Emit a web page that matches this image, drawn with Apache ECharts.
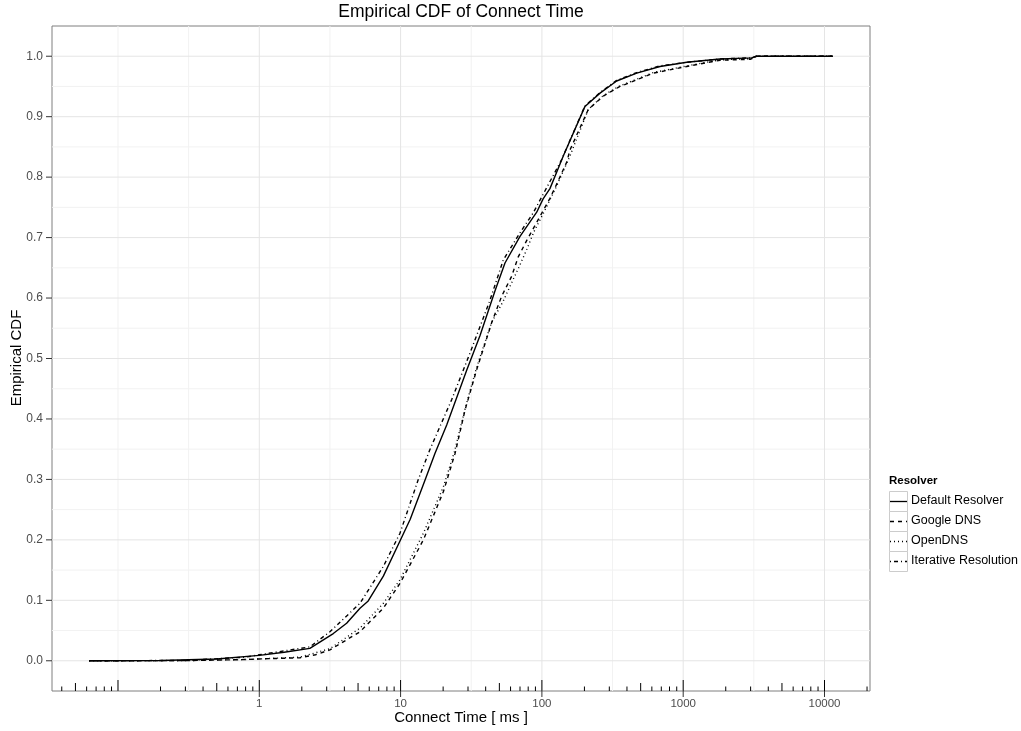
<!DOCTYPE html>
<html><head><meta charset="utf-8">
<script src="https://cdn.jsdelivr.net/npm/echarts@6/dist/echarts.min.js"></script>
<style>html,body{margin:0;padding:0;background:#fff}#c{width:1021px;height:731px}</style>
</head><body><div id="c"></div>
<script>
// ---- data ----
const seriesNames = ['Default Resolver', 'Google DNS', 'OpenDNS', 'Iterative Resolution'];

const defaultX = [0.0625, 0.2, 0.5, 1, 1.5, 2.28, 3.34, 4.15, 5.16, 5.9, 7.55, 9.9, 11.7, 14.9, 17.5, 21.2, 29.4, 36.5, 46.6, 54.8, 70, 91.9, 102, 114, 141.7, 201.8, 257.8, 338, 469, 685, 1059, 1820, 3055, 3300, 11450];
const defaultY = [0, 0.0005, 0.003, 0.009, 0.014, 0.0205, 0.045, 0.062, 0.087, 0.099, 0.140, 0.198, 0.234, 0.299, 0.343, 0.390, 0.481, 0.538, 0.612, 0.658, 0.702, 0.742, 0.764, 0.781, 0.835, 0.917, 0.939, 0.959, 0.972, 0.983, 0.990, 0.9955, 0.9973, 1.0, 1.0];

const googleX = [0.0625, 0.3, 0.8, 1.0, 1.94, 2.5, 3.16, 5.16, 7.55, 9.9, 14.5, 20.1, 24.3, 28.6, 34.5, 44.1, 51.9, 61.1, 68, 78, 102.3, 114, 127, 150, 158, 213, 272, 357, 614, 1059, 1820, 3000, 3300, 11450];
const googleY = [0, 0.0003, 0.002, 0.003, 0.005, 0.010, 0.018, 0.048, 0.087, 0.128, 0.200, 0.280, 0.343, 0.415, 0.481, 0.559, 0.603, 0.636, 0.668, 0.695, 0.745, 0.765, 0.788, 0.825, 0.845, 0.912, 0.934, 0.950, 0.972, 0.983, 0.9934, 0.995, 1.0, 1.0];

const openX = [0.0625, 0.3, 0.8, 1.0, 1.94, 3.16, 5.16, 7.55, 9.9, 14.5, 20.1, 24, 28.6, 34.5, 44.1, 53.3, 61, 70, 78, 88, 102.3, 127, 158, 213, 272, 357, 614, 1059, 1820, 3000, 3300, 11450];
const openY = [0, 0.0003, 0.002, 0.003, 0.006, 0.020, 0.054, 0.095, 0.134, 0.211, 0.288, 0.345, 0.417, 0.485, 0.560, 0.595, 0.625, 0.655, 0.680, 0.710, 0.740, 0.785, 0.835, 0.912, 0.935, 0.951, 0.973, 0.984, 0.994, 0.996, 1.0, 1.0];

const iterX = [0.0625, 0.3, 0.8, 1.0, 2.28, 3.16, 5.16, 7.55, 9.9, 13.3, 16.1, 23, 31, 43, 53.3, 70, 86.9, 138, 201.8, 258, 338, 469, 685, 1059, 1820, 3055, 3300, 11450];
const iterY = [0, 0.0005, 0.006, 0.010, 0.023, 0.048, 0.095, 0.156, 0.211, 0.299, 0.349, 0.432, 0.509, 0.597, 0.663, 0.708, 0.741, 0.829, 0.918, 0.940, 0.960, 0.973, 0.984, 0.990, 0.9955, 0.9973, 1.0, 1.0];

// ---- axis breaks / labels ----
const xMin = 0.03412, xMax = 20989;
const yMin = -0.05, yMax = 1.05;
const xMajorBreaks = [1, 10, 100, 1000, 10000];
const xTickLabels = ['1', '10', '100', '1000', '10000'];
const xMinorBreaks = [0.1, 0.3162, 3.162, 31.62, 316.2, 3162];
const yMajorBreaks = [0, 0.1, 0.2, 0.3, 0.4, 0.5, 0.6, 0.7, 0.8, 0.9, 1.0];
const yTickLabels = ['0.0', '0.1', '0.2', '0.3', '0.4', '0.5', '0.6', '0.7', '0.8', '0.9', '1.0'];
const yMinorBreaks = [0.05, 0.15, 0.25, 0.35, 0.45, 0.55, 0.65, 0.75, 0.85, 0.95];
const logDecades = [0.01, 0.1, 1, 10, 100, 1000, 10000];
const logMultipliers = [1, 2, 3, 4, 5, 6, 7, 8, 9];

const FONT = "'Liberation Sans', Arial, Helvetica, sans-serif";
const dashTypes = ['solid', [4, 4], [1, 3], [1, 3, 4, 3]];

function zip(xs, ys) { return xs.map((x, i) => [x, ys[i]]); }
const seriesData = [zip(defaultX, defaultY), zip(googleX, googleY), zip(openX, openY), zip(iterX, iterY)];

function gridRender(params, api) {
  const cs = params.coordSys;
  const L = cs.x, R = cs.x + cs.width, T = cs.y, B = cs.y + cs.height;
  const ch = [];
  const hline = (v, c) => { const y = api.coord([1, v])[1]; ch.push({type: 'line', shape: {x1: L, y1: y, x2: R, y2: y}, style: {stroke: c, lineWidth: 1}}); };
  const vline = (v, c) => { const x = api.coord([v, 0])[0]; ch.push({type: 'line', shape: {x1: x, y1: T, x2: x, y2: B}, style: {stroke: c, lineWidth: 1}}); };
  yMinorBreaks.forEach(v => hline(v, '#f2f2f2'));
  xMinorBreaks.forEach(v => vline(v, '#f2f2f2'));
  yMajorBreaks.forEach(v => hline(v, '#e5e5e5'));
  xMajorBreaks.forEach(v => vline(v, '#e5e5e5'));
  return {type: 'group', children: ch};
}

function axisRender(params, api) {
  const cs = params.coordSys;
  const L = cs.x, R = cs.x + cs.width, T = cs.y, B = cs.y + cs.height;
  const ch = [];
  logDecades.forEach(d => logMultipliers.forEach(m => {
    const v = d * m;
    if (v < xMin || v > xMax) return;
    const x = api.coord([v, 0])[0];
    const len = m === 1 ? 11 : (m === 5 ? 8 : 4.5);
    ch.push({type: 'line', shape: {x1: x, y1: B - len, x2: x, y2: B}, style: {stroke: '#000', lineWidth: 1}});
  }));
  xMajorBreaks.forEach((v, i) => {
    const x = api.coord([v, 0])[0];
    ch.push({type: 'line', shape: {x1: x, y1: B, x2: x, y2: B + 6}, style: {stroke: '#333', lineWidth: 1}});
    ch.push({type: 'text', style: {text: xTickLabels[i], x: x, y: B + 12.5, align: 'center', verticalAlign: 'middle', textAlign: 'center', textVerticalAlign: 'middle', fontSize: 11.5, fontFamily: FONT, fill: '#4d4d4d'}});
  });
  yMajorBreaks.forEach((v, i) => {
    const y = api.coord([1, v])[1];
    ch.push({type: 'line', shape: {x1: L - 6, y1: y, x2: L, y2: y}, style: {stroke: '#333', lineWidth: 1}});
    ch.push({type: 'text', style: {text: yTickLabels[i], x: L - 9, y: y, align: 'right', verticalAlign: 'middle', textAlign: 'right', textVerticalAlign: 'middle', fontSize: 12, fontFamily: FONT, fill: '#4d4d4d'}});
  });
  return {type: 'group', children: ch};
}

const chart = echarts.init(document.getElementById('c'), null, {renderer: 'canvas'});

const legendEls = [{type: 'text', x: 889, y: 481, style: {text: 'Resolver', align: 'left', verticalAlign: 'middle', textAlign: 'left', textVerticalAlign: 'middle', font: 'bold 11.5px ' + FONT, fill: '#000'}}];
seriesNames.forEach((n, i) => {
  const cy = 501 + 20 * i;
  legendEls.push({type: 'rect', shape: {x: 889.5, y: cy - 9.5, width: 18, height: 20}, style: {fill: '#fff', stroke: '#cccccc', lineWidth: 1}});
  legendEls.push({type: 'line', shape: {x1: 890, y1: cy + 0.5, x2: 907, y2: cy + 0.5}, style: {stroke: '#000', lineWidth: 1.3, lineDash: dashTypes[i] === 'solid' ? null : dashTypes[i]}});
  legendEls.push({type: 'text', x: 911, y: cy, style: {text: n, align: 'left', verticalAlign: 'middle', textAlign: 'left', textVerticalAlign: 'middle', font: '12.5px ' + FONT, fill: '#000'}});
});

const option = {
  animation: false,
  backgroundColor: '#fff',
  grid: {left: 52, right: 151, top: 26, bottom: 40, show: true, borderColor: '#7f7f7f', borderWidth: 1, backgroundColor: '#fff', containLabel: false},
  xAxis: {type: 'log', logBase: 10, min: xMin, max: xMax, show: false},
  yAxis: {type: 'value', min: yMin, max: yMax, show: false},
  graphic: [
    {type: 'text', x: 461, y: 12, style: {text: 'Empirical CDF of Connect Time', align: 'center', verticalAlign: 'middle', textAlign: 'center', textVerticalAlign: 'middle', font: '17.5px ' + FONT, fill: '#000'}},
    {type: 'text', x: 461, y: 718, style: {text: 'Connect Time [ ms ]', align: 'center', verticalAlign: 'middle', textAlign: 'center', textVerticalAlign: 'middle', font: '15px ' + FONT, fill: '#000'}},
    {type: 'text', x: 17, y: 358, rotation: Math.PI / 2, style: {text: 'Empirical CDF', align: 'center', verticalAlign: 'middle', textAlign: 'center', textVerticalAlign: 'middle', font: '15px ' + FONT, fill: '#000'}}
  ].concat(legendEls),
  series: [
    {type: 'custom', name: 'grid', renderItem: gridRender, data: [[1, 0]], z: 1, silent: true, clip: false},
    ...seriesNames.map((n, i) => ({
      type: 'line', name: n, data: seriesData[i], showSymbol: false, symbol: 'none', z: 3, silent: true,
      lineStyle: {color: '#000', width: 1.4, type: dashTypes[i]}
    })),
    {type: 'custom', name: 'axes', renderItem: axisRender, data: [[1, 0]], z: 4, silent: true, clip: false}
  ]
};
chart.setOption(option);
</script>
</body></html>
